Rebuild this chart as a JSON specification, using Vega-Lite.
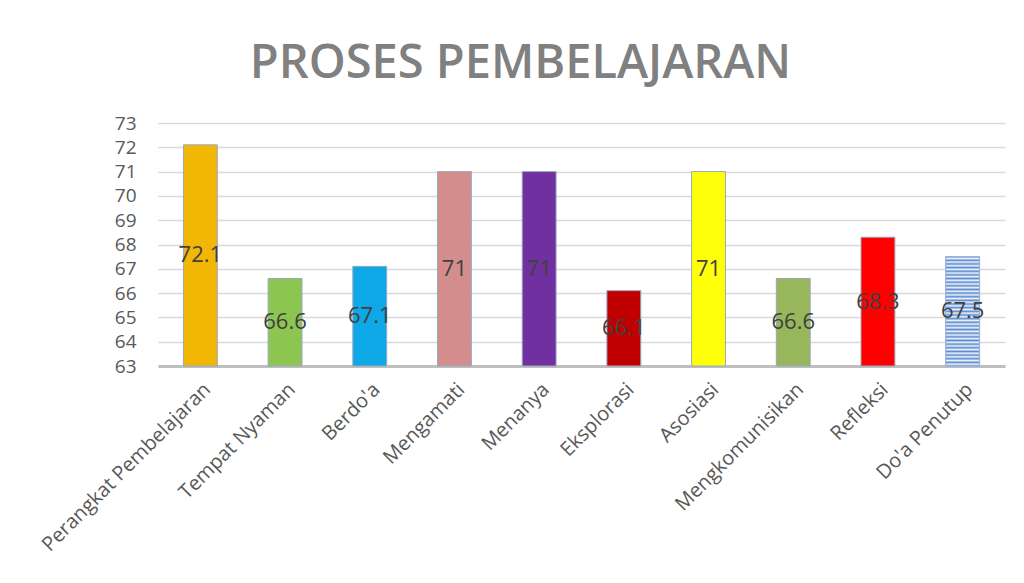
{
  "$schema": "https://vega.github.io/schema/vega-lite/v6.json",
  "autosize": "none",
  "width": 847,
  "height": 243,
  "padding": {"left": 158, "top": 123, "right": 19, "bottom": 217},
  "background": "white",
  "title": {
    "text": "PROSES PEMBELAJARAN",
    "font": "Open Sans",
    "fontSize": 47,
    "fontWeight": 600,
    "color": "#808080",
    "anchor": "middle",
    "dx": -61,
    "offset": 26
  },
  "data": {
    "values": [
      {"cat": "Perangkat Pembelajaran", "value": 72.1},
      {"cat": "Tempat Nyaman", "value": 66.6},
      {"cat": "Berdo'a", "value": 67.1},
      {"cat": "Mengamati", "value": 71},
      {"cat": "Menanya", "value": 71},
      {"cat": "Eksplorasi", "value": 66.1},
      {"cat": "Asosiasi", "value": 71},
      {"cat": "Mengkomunisikan", "value": 66.6},
      {"cat": "Refleksi", "value": 68.3},
      {"cat": "Do'a Penutup", "value": 67.5}
    ]
  },
  "encoding": {
    "x": {
      "field": "cat",
      "type": "nominal",
      "sort": null,
      "scale": {"paddingInner": 0.6, "paddingOuter": 0.3},
      "axis": {
        "title": null,
        "labelAngle": -45,
        "labelFont": "Open Sans",
        "labelFontSize": 20,
        "labelColor": "#595959",
        "labelLimit": 0,
        "labelOverlap": false,
        "ticks": false,
        "domainColor": "#bfbfbf",
        "domainWidth": 3,
        "labelPadding": 13
      }
    }
  },
  "layer": [
    {
      "mark": {"type": "bar", "stroke": "#9aa8c0", "strokeWidth": 1},
      "encoding": {
        "y": {
          "field": "value",
          "type": "quantitative",
          "scale": {"domain": [63, 73], "zero": false, "nice": false},
          "axis": {
            "title": null,
            "values": [63, 64, 65, 66, 67, 68, 69, 70, 71, 72, 73],
            "labelOverlap": false,
            "grid": true,
            "gridColor": "#d9d9d9",
            "gridWidth": 1.5,
            "domain": false,
            "ticks": false,
            "labelPadding": 22,
            "labelFont": "Open Sans",
            "labelFontSize": 19,
            "labelColor": "#595959"
          }
        },
        "y2": {"datum": 63},
        "color": {
          "field": "cat",
          "type": "nominal",
          "legend": null,
          "scale": {
            "domain": ["Perangkat Pembelajaran", "Tempat Nyaman", "Berdo'a", "Mengamati", "Menanya", "Eksplorasi", "Asosiasi", "Mengkomunisikan", "Refleksi", "Do'a Penutup"],
            "range": ["#f2b705", "#8dc551", "#0ea8e6", "#d48d8d", "#7030a0", "#c00000", "#ffff0a", "#98b65a", "#ff0000", "#6f97d3"]
          }
        }
      }
    },
    {
      "transform": [{"filter": "datum.cat === \"Do'a Penutup\""}],
      "mark": {
        "type": "bar",
        "fill": {
          "gradient": "linear",
          "x1": 0, "y1": 0, "x2": 0, "y2": 1,
          "stops": [
            {"offset": 0, "color": "#5b8bd0"}, {"offset": 0.0167, "color": "#eef3fb"},
            {"offset": 0.0333, "color": "#5b8bd0"}, {"offset": 0.05, "color": "#eef3fb"},
            {"offset": 0.0667, "color": "#5b8bd0"}, {"offset": 0.0833, "color": "#eef3fb"},
            {"offset": 0.1, "color": "#5b8bd0"}, {"offset": 0.1167, "color": "#eef3fb"},
            {"offset": 0.1333, "color": "#5b8bd0"}, {"offset": 0.15, "color": "#eef3fb"},
            {"offset": 0.1667, "color": "#5b8bd0"}, {"offset": 0.1833, "color": "#eef3fb"},
            {"offset": 0.2, "color": "#5b8bd0"}, {"offset": 0.2167, "color": "#eef3fb"},
            {"offset": 0.2333, "color": "#5b8bd0"}, {"offset": 0.25, "color": "#eef3fb"},
            {"offset": 0.2667, "color": "#5b8bd0"}, {"offset": 0.2833, "color": "#eef3fb"},
            {"offset": 0.3, "color": "#5b8bd0"}, {"offset": 0.3167, "color": "#eef3fb"},
            {"offset": 0.3333, "color": "#5b8bd0"}, {"offset": 0.35, "color": "#eef3fb"},
            {"offset": 0.3667, "color": "#5b8bd0"}, {"offset": 0.3833, "color": "#eef3fb"},
            {"offset": 0.4, "color": "#5b8bd0"}, {"offset": 0.4167, "color": "#eef3fb"},
            {"offset": 0.4333, "color": "#5b8bd0"}, {"offset": 0.45, "color": "#eef3fb"},
            {"offset": 0.4667, "color": "#5b8bd0"}, {"offset": 0.4833, "color": "#eef3fb"},
            {"offset": 0.5, "color": "#5b8bd0"}, {"offset": 0.5167, "color": "#eef3fb"},
            {"offset": 0.5333, "color": "#5b8bd0"}, {"offset": 0.55, "color": "#eef3fb"},
            {"offset": 0.5667, "color": "#5b8bd0"}, {"offset": 0.5833, "color": "#eef3fb"},
            {"offset": 0.6, "color": "#5b8bd0"}, {"offset": 0.6167, "color": "#eef3fb"},
            {"offset": 0.6333, "color": "#5b8bd0"}, {"offset": 0.65, "color": "#eef3fb"},
            {"offset": 0.6667, "color": "#5b8bd0"}, {"offset": 0.6833, "color": "#eef3fb"},
            {"offset": 0.7, "color": "#5b8bd0"}, {"offset": 0.7167, "color": "#eef3fb"},
            {"offset": 0.7333, "color": "#5b8bd0"}, {"offset": 0.75, "color": "#eef3fb"},
            {"offset": 0.7667, "color": "#5b8bd0"}, {"offset": 0.7833, "color": "#eef3fb"},
            {"offset": 0.8, "color": "#5b8bd0"}, {"offset": 0.8167, "color": "#eef3fb"},
            {"offset": 0.8333, "color": "#5b8bd0"}, {"offset": 0.85, "color": "#eef3fb"},
            {"offset": 0.8667, "color": "#5b8bd0"}, {"offset": 0.8833, "color": "#eef3fb"},
            {"offset": 0.9, "color": "#5b8bd0"}, {"offset": 0.9167, "color": "#eef3fb"},
            {"offset": 0.9333, "color": "#5b8bd0"}, {"offset": 0.95, "color": "#eef3fb"},
            {"offset": 0.9667, "color": "#5b8bd0"}, {"offset": 0.9833, "color": "#eef3fb"},
            {"offset": 1, "color": "#5b8bd0"}
          ]
        },
        "stroke": "#9ab4dc",
        "strokeWidth": 1
      },
      "encoding": {
        "y": {
          "field": "value",
          "type": "quantitative",
          "axis": {
            "title": null,
            "values": [63, 64, 65, 66, 67, 68, 69, 70, 71, 72, 73],
            "labelOverlap": false,
            "grid": true,
            "gridColor": "#d9d9d9",
            "gridWidth": 1.5,
            "domain": false,
            "ticks": false,
            "labelPadding": 22,
            "labelFont": "Open Sans",
            "labelFontSize": 19,
            "labelColor": "#595959"
          }
        },
        "y2": {"datum": 63}
      }
    },
    {
      "transform": [{"calculate": "(datum.value + 63) / 2", "as": "mid"}],
      "mark": {"type": "text", "font": "Open Sans", "fontSize": 22, "color": "#404040", "baseline": "middle"},
      "encoding": {
        "y": {
          "field": "mid",
          "type": "quantitative",
          "axis": {
            "title": null,
            "values": [63, 64, 65, 66, 67, 68, 69, 70, 71, 72, 73],
            "labelOverlap": false,
            "grid": true,
            "gridColor": "#d9d9d9",
            "gridWidth": 1.5,
            "domain": false,
            "ticks": false,
            "labelPadding": 22,
            "labelFont": "Open Sans",
            "labelFontSize": 19,
            "labelColor": "#595959"
          }
        },
        "text": {"field": "value", "type": "nominal"}
      }
    }
  ],
  "config": {"view": {"stroke": null}}
}
